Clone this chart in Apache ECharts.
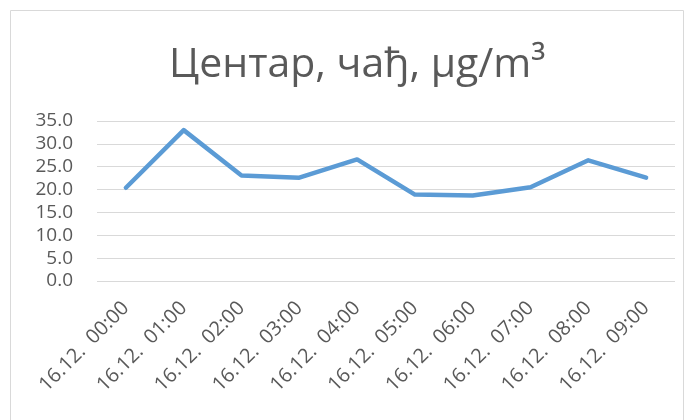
<!DOCTYPE html>
<html>
<head>
<meta charset="utf-8">
<script src="https://cdn.jsdelivr.net/npm/echarts@6/dist/echarts.min.js"></script>
<style>
  html, body { margin: 0; padding: 0; background: #fff; }
  #chart { width: 691px; height: 420px; }
</style>
</head>
<body>
<div id="chart"></div>
<script>
var categories = ['16.12.  00:00', '16.12.  01:00', '16.12.  02:00', '16.12.  03:00', '16.12.  04:00',
                  '16.12.  05:00', '16.12.  06:00', '16.12.  07:00', '16.12.  08:00', '16.12.  09:00'];
var values = [20.4, 33.0, 23.1, 22.6, 26.6, 18.9, 18.7, 20.5, 26.4, 22.6];
var titleText = 'Центар, чађ, µg/m³';

var myChart = echarts.init(document.getElementById('chart'));
var option = {
    animation: false,
    textStyle: { fontFamily: 'Open Sans' },
    title: {
        text: titleText,
        left: 164,
        top: 40,
        textStyle: {
            fontFamily: 'Open Sans',
            fontSize: 41,
            fontWeight: 'normal',
            color: '#595959'
        }
    },
    graphic: [{
        type: 'rect',
        shape: { x: 10.5, y: 10.5, width: 673, height: 430 },
        style: { fill: null, stroke: '#d9d9d9', lineWidth: 1 },
        silent: true
    }],
    grid: {
        left: 97,
        right: 16,
        top: 121,
        bottom: 139
    },
    xAxis: {
        type: 'category',
        data: categories,
        boundaryGap: true,
        axisLine: { show: false },
        axisTick: { show: false },
        axisLabel: {
            interval: 0,
            rotate: 45,
            margin: 24,
            fontSize: 20,
            color: '#595959'
        }
    },
    yAxis: {
        type: 'value',
        min: 0,
        max: 35,
        interval: 5,
        axisLine: { show: false },
        axisTick: { show: false },
        axisLabel: {
            formatter: function (v) { return v.toFixed(1); },
            fontSize: 19,
            color: '#595959',
            margin: 24
        },
        splitLine: { lineStyle: { color: '#d9d9d9', width: 1 } }
    },
    series: [{
        type: 'line',
        data: values,
        symbol: 'none',
        lineStyle: { color: '#5b9bd5', width: 4.5, cap: 'round', join: 'round' }
    }]
};
myChart.setOption(option, true);
</script>
</body>
</html>
